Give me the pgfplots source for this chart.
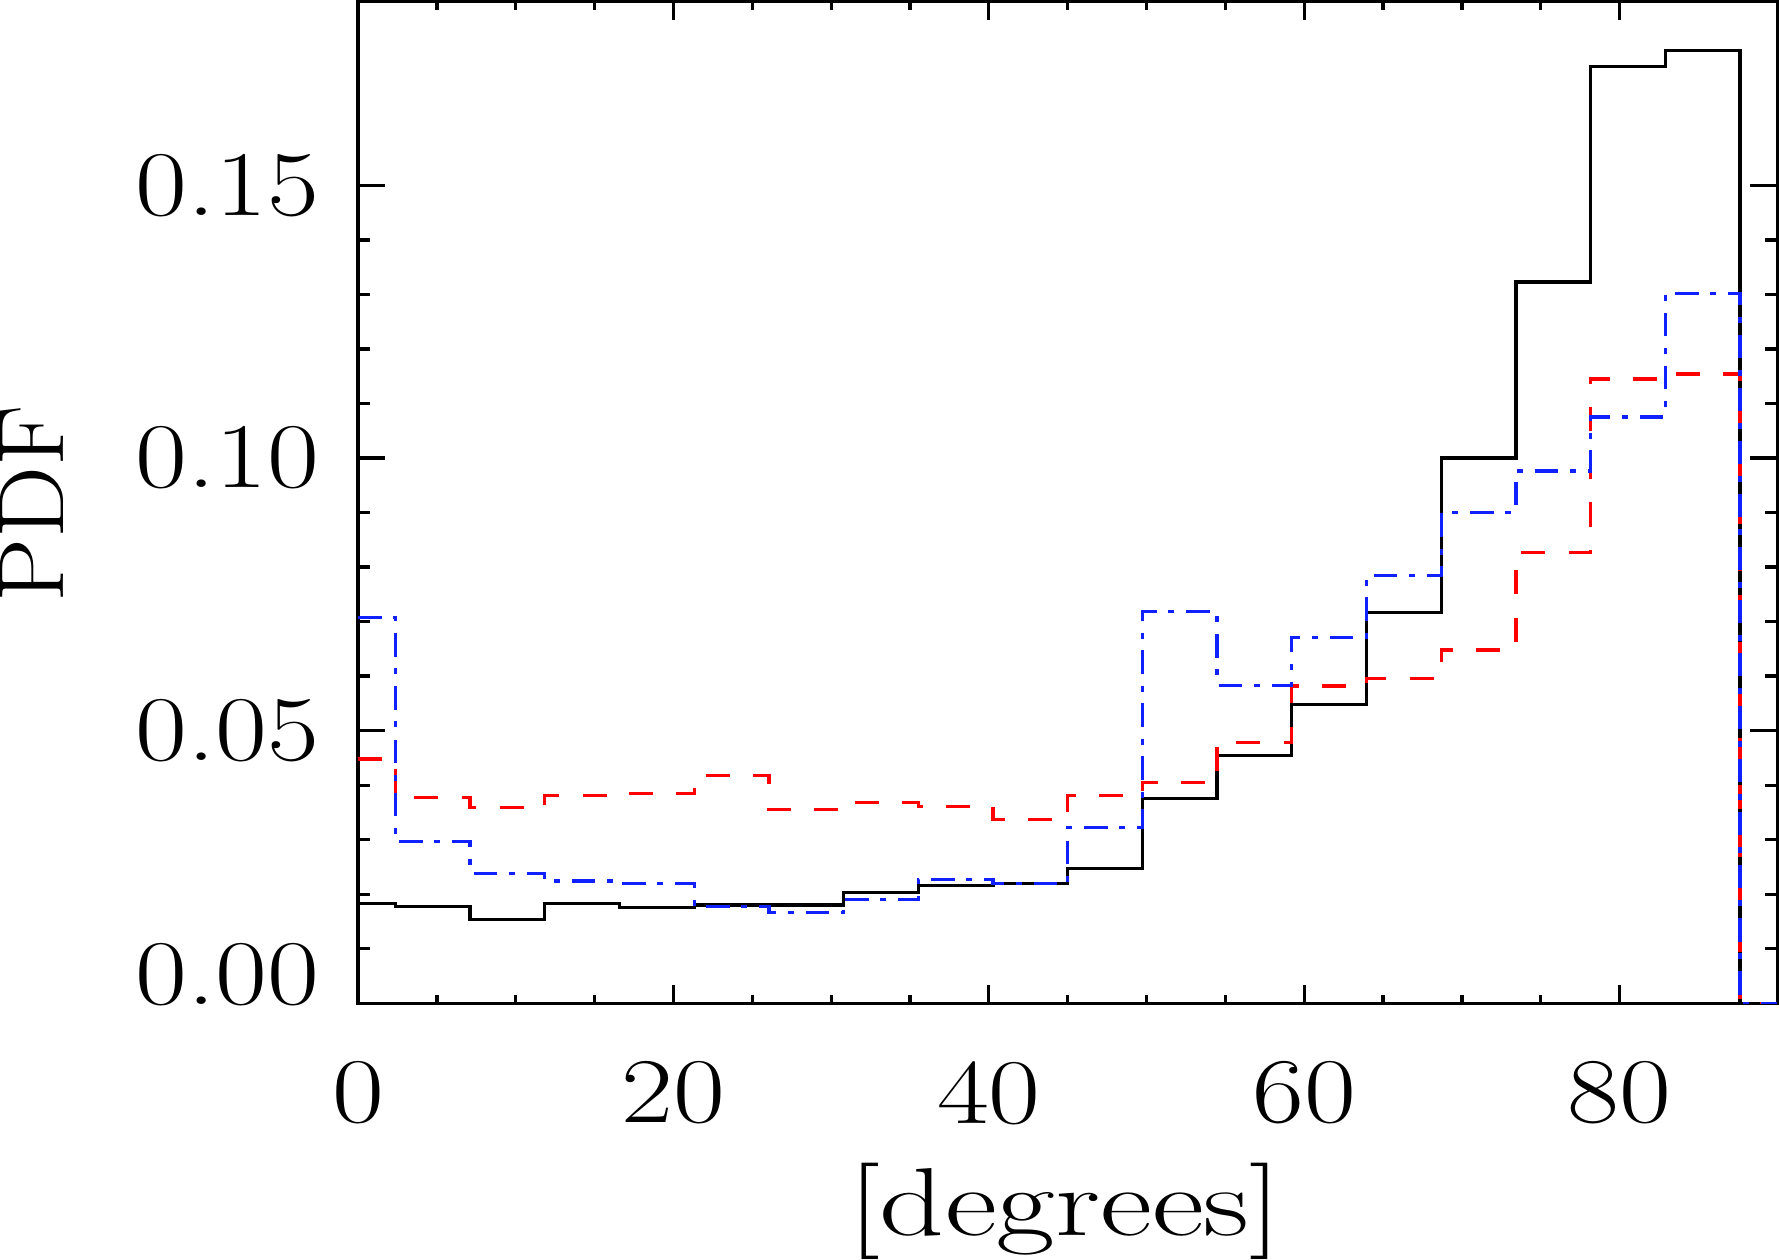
\documentclass[border=0pt]{standalone}
\usepackage{fontspec}
\usepackage{pgfplots}
\pgfplotsset{compat=1.18}
\definecolor{idlred}{RGB}{255,0,0}
\definecolor{idlblue}{RGB}{16,32,255}
% the original lettering is wider than Latin Modern
\newcommand{\hs}[1]{\scalebox{1.22}[1]{#1}}

% histogram values, bin centres at k*90/19
\pgfplotstableread{
x        blk    red    blu
0.0000   0.0183 0.0448 0.0707
4.7368   0.0178 0.0377 0.0296
9.4737   0.0153 0.0359 0.0238
14.2105  0.0183 0.0381 0.0224
18.9474  0.0176 0.0384 0.0219
23.6842  0.0180 0.0417 0.0178
28.4211  0.0180 0.0355 0.0166
33.1579  0.0203 0.0368 0.0190
37.8947  0.0216 0.0361 0.0227
42.6316  0.0220 0.0337 0.0220
47.3684  0.0247 0.0381 0.0322
52.1053  0.0375 0.0405 0.0718
56.8421  0.0454 0.0478 0.0583
61.5789  0.0548 0.0582 0.0671
66.3158  0.0717 0.0596 0.0785
71.0526  0.1000 0.0648 0.0900
75.7895  0.1323 0.0827 0.0976
80.5263  0.1718 0.1145 0.1075
85.2632  0.1747 0.1154 0.1302
90.0000  0.0000 0.0000 0.0000
}\pdfdata

\begin{document}
\begin{tikzpicture}
\begin{axis}[
  width=283.7pt, height=200.2pt, scale only axis,
  xmin=0, xmax=90, ymin=0, ymax=0.1837,
  xtick={0,20,40,60,80}, minor x tick num=3,
  xticklabels={\hs{0},\hs{20},\hs{40},\hs{60},\hs{80}},
  ytick={0,0.05,0.1,0.15}, yticklabels={{},\hs{0.05},\hs{0.10},\hs{0.15}},
  minor y tick num=4,
  extra y ticks={0}, extra y tick labels={\hs{0.00}},
  extra y tick style={yticklabel style={yshift=5.8pt}},
  axis line style={line width=0.65pt},
  every tick/.style={black, line width=0.65pt},
  xtick style={/pgfplots/major tick length=3.6pt, /pgfplots/minor tick length=1.7pt},
  ytick style={/pgfplots/major tick length=5.4pt, /pgfplots/minor tick length=2.4pt},
  tick label style={font=\fontsize{18.5}{22}\selectfont},
  xticklabel style={yshift=-8.1pt},
  yticklabel style={xshift=-4.2pt},
  label style={inner sep=0pt},
  xlabel={\scalebox{1.32}[1]{[degrees]}},
  ylabel={\scalebox{1.1}[1]{PDF}},
  xlabel style={font=\fontsize{19.3}{23}\selectfont,
    at={(axis description cs:0.498,-0.2075)}, anchor=center},
  ylabel style={font=\fontsize{18.5}{22}\selectfont,
    at={(axis description cs:-0.230,0.4985)}, anchor=center},
]
\addplot[const plot mark mid, black, line width=0.65pt] table[x=x, y=blk] {\pdfdata};
\addplot[const plot mark mid, idlred, line width=0.65pt,
  dash pattern=on 4.8pt off 4.7pt] table[x=x, y=red] {\pdfdata};
\addplot[const plot mark mid, idlblue, line width=0.65pt,
  dash pattern=on 4.7pt off 2.3pt on 1.2pt off 2.4pt] table[x=x, y=blu] {\pdfdata};
\end{axis}
\end{tikzpicture}
\end{document}
